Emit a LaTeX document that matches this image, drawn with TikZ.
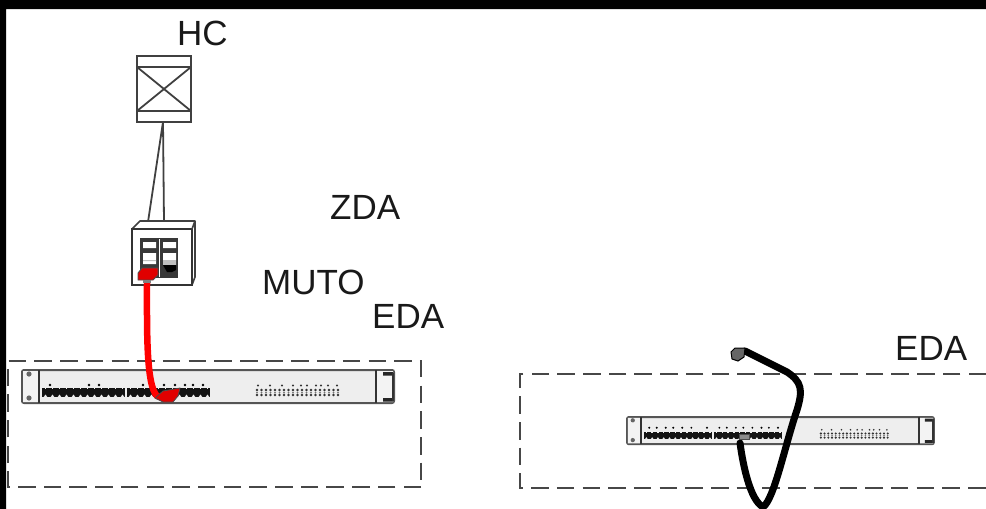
\documentclass[tikz,border=0pt]{standalone}
\usepackage{fontspec}
\setmainfont{Liberation Sans}
\definecolor{panel}{HTML}{EEEEEE}
\definecolor{flange}{HTML}{F3F3F3}
\definecolor{edge}{HTML}{555555}
\definecolor{plug}{HTML}{E00000}
\tikzset{
  lbl/.style={font=\fontsize{35}{35}\selectfont,inner sep=0pt,text=black!90},
  dashbox/.style={draw=black!72,line width=2.4pt,dash pattern=on 17.5pt off 8.2pt},
  thin line/.style={draw=black!75,line width=1.8pt},
  cable/.style={line cap=round,line join=round},
}
\newcommand{\rackunit}[5]{% x, y, scale, dot list, dot y
\begin{scope}[shift={(#1,#2)},scale=#3]
  \draw[fill=panel,draw=edge,line width=2pt,rounded corners=2pt] (0,0) rectangle (372,33);
  \fill[flange] (1,1) rectangle (16,32) (355,1) rectangle (371,32);
  \draw[draw=black!80,line width=2pt] (17,0) -- (17,33) (354,0) -- (354,33);
  \fill[black!60] (7,4) circle (2.6pt) (7,28) circle (2.6pt);
  \fill[black!85] (361,2) rectangle (371,5.5) (361,28) rectangle (371,31.5);
  \draw[black!80,line width=1.6pt] (371,3) -- (371,31);
  \foreach \a/\b in {20/103,105/188}{
    \fill[black!92] (\a,18) rectangle (\b,27);
    \pgfmathsetmacro{\nn}{\a+7}
    \foreach \x in {\a,\nn,...,\b}{
      \fill[panel] (\x+1,28) -- (\x+3.5,24.5) -- (\x+6,28) -- cycle;
      \fill[panel] (\x+2.6,17) rectangle (\x+4.4,18.8);
    }
  }
  \foreach \x in {#4}{\fill[black] (\x,#5) circle (1.3pt);}
  \foreach \x in {235,239.5,...,316}{
    \fill[black!80] (\x,20) circle (1.4pt) (\x,25) circle (1.4pt);
    \fill[black!55] (\x,22.5) circle (1pt);}
  \foreach \x in {236,248,260,271,279,285,294,299,306,315}{\fill[black!80] (\x,15.5) circle (1.1pt);}
\end{scope}}
\begin{document}
\begin{tikzpicture}[x=1pt,y=-1pt]
\useasboundingbox (0,0) rectangle (986,509);
\fill[white] (0,0) rectangle (986,509);
\fill[black] (0,0) rectangle (986,9) (0,0) rectangle (6,509);
% labels
\node[lbl,anchor=base west] (hc) at (177,45) {HC};
\node[lbl,anchor=base west] (zda) at (330,219) {ZDA};
\node[lbl,anchor=base west] (muto) at (262,294) {MUTO};
\node[lbl,anchor=base west] (eda1) at (372,328) {EDA};
\node[lbl,anchor=base west] (eda2) at (895,360) {EDA};
% dashed areas
\draw[dashbox] (421,487) -- (8,487) -- (8,361) -- (421,361) -- cycle;
\draw[dashbox] (986,374) -- (520,374) -- (520,488) -- (986,488);
% HC cross connect
\node[draw=black!75,line width=1.8pt,fill=white,minimum width=54pt,minimum height=66pt,inner sep=0pt] (hcbox) at (164,89) {};
\draw[thin line] (137,67) -- (191,67) (137,111) -- (191,111) (137,67) -- (191,111) (191,67) -- (137,111);
% outlet
\coordinate (outA) at (148,222);
\coordinate (outB) at (164,222);
\coordinate (hcA) at (163,122);
\draw[thin line] (hcA) -- (outA) (hcA) -- (outB);
\draw[black!75,line width=1.6pt,fill=white,line join=round] (132,229) -- (140,221) -- (195,221) -- (195,277) -- (192,285) -- (132,285) -- cycle;
\node[draw=black!80,line width=2pt,fill=white,minimum width=60pt,minimum height=56pt,inner sep=0pt] (outlet) at (162,257) {};
\draw[black!75,line width=1.6pt] (192,229) -- (195,221);
\fill[black!78] (140,238) rectangle (178,278);
\draw[white,line width=1pt] (159.5,239) -- (159.5,277);
\fill[white] (143,242) rectangle (156,248) (163,242) rectangle (176,248)
  (143,253) rectangle (156,264) (163,253) rectangle (176,260);
\fill[black!25] (143,260) rectangle (156,261) (163,260) rectangle (176,265);
\fill[black] (163,265) -- (176,265) -- (176,270) -- (172,272) -- (167,272) -- cycle;
% rack units
\rackunit{22}{370}{1}{28,67,77,121,142,153,163,171,181}{15}
\rackunit{627}{417}{0.825}{27,36,47,56,67,78,97,112,121,132,141,152,163,172,183}{13}
% red cable
\coordinate (redA) at (147,282);
\coordinate (redB) at (166,399);
\draw[cable,red,line width=6.5pt] (redA) .. controls (147,330) and (146,385) .. (157,396) -- (redB);
\fill[plug,draw=black!70,line width=.8pt] (138,273) -- (142,268) -- (158,268) -- (158,275) -- (153,280) -- (138,280) -- cycle;
\fill[black!50] (143,280) rectangle (151,283);
\fill[plug,draw=black!70,line width=.8pt] (163,391) -- (180,388) -- (178,396) -- (173,402) -- (163,402) -- (155,398) -- cycle;
% black cable
\coordinate (bA) at (745,351);
\coordinate (bB) at (740,443);
\draw[cable,black,line width=7pt] (bB) .. controls (743,465) and (750,500) .. (763,507)
  .. controls (774,500) and (785,445) .. (797,410)
  .. controls (803,390) and (802,382) .. (787,372) -- (bA);
\fill[black!60,draw=black,line width=1pt] (731,352) -- (735,348) -- (745,348) -- (744,357) -- (738,361) -- (732,359) -- cycle;
\fill[black!45,draw=black!70] (739,434) rectangle (749,439);
\end{tikzpicture}
\end{document}
